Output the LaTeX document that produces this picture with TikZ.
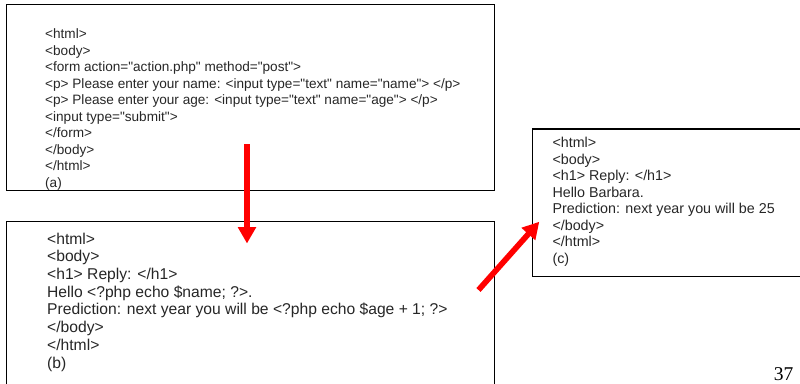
\documentclass[tikz,border=0pt]{standalone}
\usepackage{fontspec}
\setmainfont{Liberation Sans}[Ligatures=TeXOff]
\newfontfamily\slidefont{Liberation Serif}
\usetikzlibrary{arrows.meta, positioning, calc}

\begin{document}
\begin{tikzpicture}[
        x=1pt, y=-1pt,
        page/.style={rectangle, draw=black, line width=1.3pt, fill=none, anchor=north west, inner sep=0pt},
        code/.style={anchor=north west, inner sep=0pt, align=left, text=black!85},
        arrow/.style={-{Triangle[length=16.5pt, width=17.5pt]}, draw=red, line width=5.7pt}
    ]
        \useasboundingbox (0,0) rectangle (800,383);

        % the three pages
        \node[page, minimum width=488pt, minimum height=185.5pt] (forma) at (6,4) {};
        \node[page, minimum width=488pt, minimum height=170pt] (replyb) at (6,220.5) {};
        \node[page, minimum width=270pt, minimum height=147.4pt] (replyc) at (531.7,128.3) {};

        \node[code, font=\fontsize{13.6}{16.5}\selectfont] (codea) at ([shift={(39,24.6)}]forma.north west) {<html>\\
<body>\\
<form action="action.php" method="post">\\
<p> Please enter your name: <input type="text" name="name"> </p>\\
<p> Please enter your age: <input type="text" name="age"> </p>\\
<input type="submit">\\
</form>\\
</body>\\
</html>\\
(a)};
        \node[code, font=\fontsize{15.65}{17.7}\selectfont] (codeb) at ([shift={(41,12.1)}]replyb.north west) {<html>\\
<body>\\
<h1> Reply: </h1>\\
Hello <?php echo \$name; ?>.\\
Prediction: next year you will be <?php echo \$age + 1; ?>\\
</body>\\
</html>\\
(b)};
        \node[code, font=\fontsize{14.3}{16.5}\selectfont] (codec) at ([shift={(20.6,9.1)}]replyc.north west) {<html>\\
<body>\\
<h1> Reply: </h1>\\
Hello Barbara.\\
Prediction: next year you will be 25\\
</body>\\
</html>\\
(c)};

        \node[font=\slidefont\fontsize{19.5}{20}\selectfont, anchor=base east, inner sep=0pt] (pagenum) at (793.5,380.3) {37};

        % red arrows
        \coordinate (downtop) at (247,144);
        \coordinate (downtip) at (247,243.5);
        \coordinate (slanttail) at (478.5,290);
        \coordinate (slanttip) at (539.3,221.7);
        \draw[arrow] (downtop) -- (downtip);
        \draw[arrow] (slanttail) -- (slanttip);
\end{tikzpicture}
\end{document}
